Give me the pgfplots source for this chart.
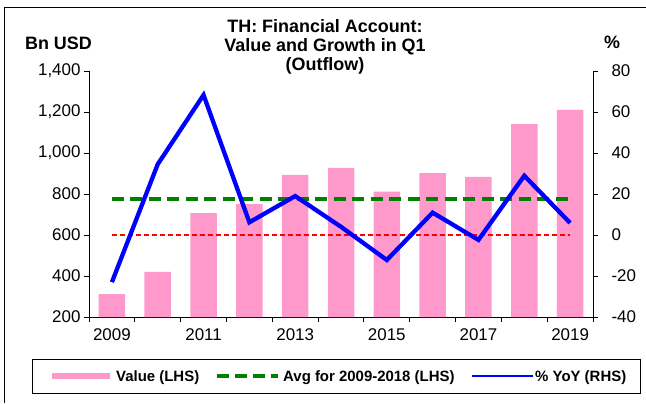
\documentclass[border=0pt]{standalone}
\usepackage{fontspec}
\setmainfont{Liberation Sans}
\usepackage{pgfplots}
\pgfplotsset{compat=1.18}

\definecolor{barpink}{RGB}{255,153,204}
\definecolor{avggreen}{RGB}{0,128,0}
\definecolor{yoyblue}{RGB}{0,0,255}
\definecolor{zeroline}{RGB}{255,0,0}

\pgfplotsset{
  chartbase/.style={
    at={(89bp,86bp)}, anchor=south west,
    scale only axis, width=504bp, height=246bp,
    xmin=2008.5, xmax=2019.5,
    axis line style={line width=0.9bp, -},
    tick align=outside, major tick length=5bp,
    tick style={line width=0.9bp, black},
    tick label style={font=\fontsize{17}{20}\selectfont},
    /pgf/number format/assume math mode=true,
  },
}

\begin{document}
\begin{tikzpicture}[x=1bp,y=1bp]
\useasboundingbox (0,0) rectangle (646,403);
\draw[line width=1bp] (4,0) -- (4,395) -- (646,395);

% left axis: value in bn USD
\begin{axis}[chartbase,
  ymin=200, ymax=1400, ytick={200,400,...,1400},
  axis x line*=bottom, axis y line*=left,
  yticklabel style={/pgf/number format/1000 sep={,}},
  xtick={2008.5,2009.5,...,2019.5}, xticklabels={},
  extra x ticks={2009,2011,2013,2015,2017,2019},
  extra x tick labels={2009,2011,2013,2015,2017,2019},
  extra x tick style={major tick length=0pt, xticklabel style={yshift=-8bp}},
]
\addplot[ybar, bar width=26.5bp, fill=barpink, draw=none] coordinates {
  (2009,311) (2010,420) (2011,707) (2012,751) (2013,893) (2014,927)
  (2015,811) (2016,902) (2017,883) (2018,1141) (2019,1210)};
\addplot[avggreen, line width=3.3bp, dash pattern=on 12bp off 6.5bp] coordinates {(2009,776) (2019,776)};
\addplot[zeroline, line width=1.2bp, dash pattern=on 5bp off 3bp] coordinates {(2009,600) (2019,600)};
\end{axis}

% right axis: % YoY
\begin{axis}[chartbase,
  ymin=-40, ymax=80, ytick={-40,-20,...,80},
  axis x line=none, axis y line*=right,
  yticklabel style={xshift=10bp},
  clip=false,
]
\addplot[yoyblue, line width=4.3bp, line join=miter] coordinates {
  (2009,-23) (2010,34.5) (2011,68.3) (2012,6.2) (2013,19) (2014,4)
  (2015,-12.2) (2016,10.9) (2017,-2.4) (2018,28.9) (2019,5.9)};
\end{axis}

% titles
\begin{scope}[every node/.style={font=\bfseries\fontsize{18}{20}\selectfont, inner sep=0pt, anchor=base}]
\node at (325,371) {TH: Financial Account:};
\node at (325,352) {Value and Growth in Q1};
\node at (325,333) {(Outflow)};
\node at (58.5,354) {Bn USD};
\node at (612,355) {\%};
\end{scope}

% legend
\draw[line width=1bp] (32,10) rectangle (640,44);
\draw[barpink, line width=6bp] (52,27) -- (110,27);
\draw[avggreen, line width=3.5bp, dash pattern=on 12bp off 6bp] (217,27) -- (278,27);
\draw[yoyblue, line width=2.8bp] (472,27) -- (533,27);
\begin{scope}[every node/.style={font=\bfseries\fontsize{15}{18}\selectfont, inner sep=0pt, anchor=base west}]
\node at (116,21.5) {Value (LHS)};
\node at (283,21.5) {Avg for 2009-2018 (LHS)};
\node at (535,21.5) {\% YoY (RHS)};
\end{scope}
\end{tikzpicture}
\end{document}
